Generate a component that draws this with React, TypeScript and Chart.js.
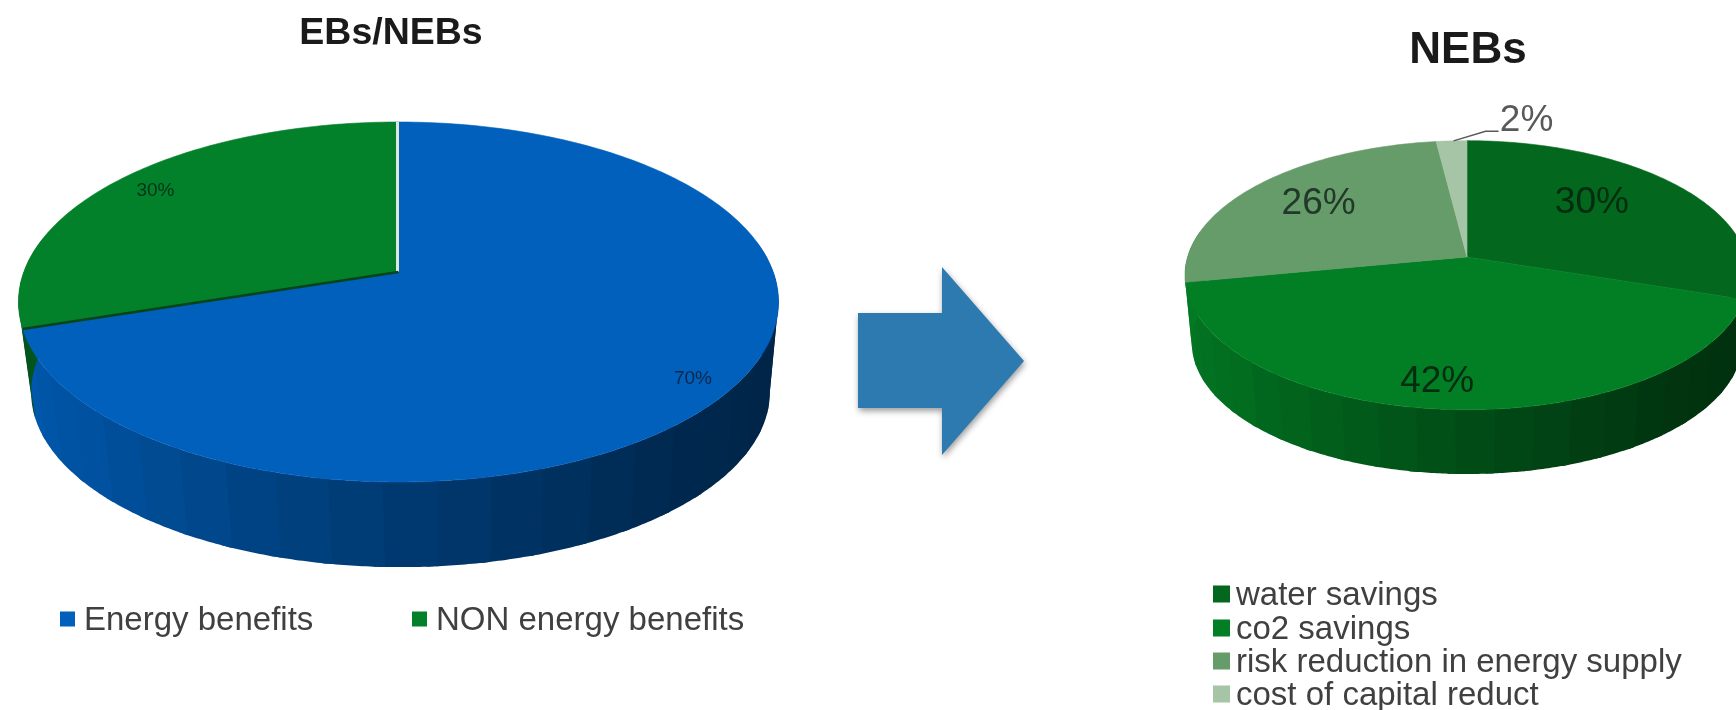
import React, { useEffect, useRef } from "react";
import { Chart, registerables } from "chart.js";

Chart.register(...registerables);

const benefitCategories = ["Energy benefits", "NON energy benefits"];
const benefitValues = [70, 30];
const benefitColors = ["#0060BC", "#03812A"];

const nebCategories = ["water savings", "co2 savings", "risk reduction in energy supply", "cost of capital reduct"];
const nebValues = [30, 42, 26, 2];
const nebColors = ["#03681E", "#027F25", "#669B6A", "#A6C4A6"];

const FONT = "'Liberation Sans', Arial, sans-serif";
const STRIP_DEG = 7;
const SHADE_STOPS = [[0, 0.98], [0.25, 0.85], [0.5, 0.6], [0.72, 0.41], [1, 0.36]];

type PieLook = {
  shiftX: number; floorShift: number;
  radiusX: number; radiusY: number; tilt: number; drop: number; floorScale: number;
  labelFont: number; labelColors: string[]; labelRadius: number[]; labelTurn: number[]; labelDrop: number;
  sideColors: string[];
  edges: { index: number; color: string; width: number; shift: number }[];
  leaderIndex: number | null;
  legendBox: number; legendX: number[]; legendY: number[]; legendTextX: number[];
};

const shadeAt = (deg: number) => {
  const t = Math.min(1, Math.max(0, (275 - deg) / 190));
  for (let i = 1; i < SHADE_STOPS.length; i++) {
    const [a, fa] = SHADE_STOPS[i - 1];
    const [b, fb] = SHADE_STOPS[i];
    if (t <= b) return fa + ((fb - fa) * (t - a)) / (b - a);
  }
  return SHADE_STOPS[SHADE_STOPS.length - 1][1];
};

const darken = (hex: string, k: number) => {
  const n = parseInt(hex.slice(1), 16);
  const c = [(n >> 16) & 255, (n >> 8) & 255, n & 255].map((v) => Math.round(v * k));
  return `rgb(${c[0]},${c[1]},${c[2]})`;
};

// Tilted disc with perspective: flat pie angles mapped onto the rim of an ellipse.
const project = (el: any, look: PieLook, deg: number, f = 1, floor = false) => {
  const a = (deg * Math.PI) / 180;
  const u = Math.sin(a) * f;
  const v = -Math.cos(a) * f;
  const w = 1 - look.tilt * v;
  const s = floor ? look.floorScale : 1;
  return {
    x: el.x + look.shiftX + (floor ? look.floorShift : 0) + (look.radiusX * u * s) / w,
    y: el.y + (floor ? look.drop : 0) + (look.radiusY * v * s) / w,
  };
};

const sliceDegrees = (el: any) => ({
  start: ((el.startAngle + Math.PI / 2) * 180) / Math.PI,
  end: ((el.endAngle + Math.PI / 2) * 180) / Math.PI,
});

const tiltedPie = (look: PieLook) => ({
  id: "tiltedPie",
  beforeDatasetsDraw(chart: any) {
    const { ctx } = chart;
    const arcs = chart.getDatasetMeta(0).data;
    const colors = chart.data.datasets[0].backgroundColor;
    ctx.save();

    // side wall, built from shaded bands between the upper and lower rims;
    // each band runs a little under the next one so no seam shows
    arcs.forEach((el: any, i: number) => {
      const { start, end } = sliceDegrees(el);
      const from = Math.max(start, 80);
      const to = Math.min(end, 280);
      let d = from;
      while (d < to) {
        const next = Math.min(to, (Math.floor(d / STRIP_DEG) + 1) * STRIP_DEG);
        const over = next + 1.5;
        ctx.beginPath();
        for (let a = d; a <= over + 1e-6; a += 0.5) {
          const p = project(el, look, a);
          a === d ? ctx.moveTo(p.x, p.y) : ctx.lineTo(p.x, p.y);
        }
        for (let a = over; a >= d - 1e-6; a -= 0.5) {
          const p = project(el, look, a, 1, true);
          ctx.lineTo(p.x, p.y);
        }
        ctx.closePath();
        ctx.fillStyle = darken(look.sideColors[i], shadeAt((d + next) / 2));
        ctx.fill();
        d = next;
      }
    });

    // top surface
    arcs.forEach((el: any, i: number) => {
      const { start, end } = sliceDegrees(el);
      ctx.beginPath();
      ctx.moveTo(el.x + look.shiftX, el.y);
      for (let a = start; a < end; a += 1) {
        const p = project(el, look, a);
        ctx.lineTo(p.x, p.y);
      }
      const last = project(el, look, end);
      ctx.lineTo(last.x, last.y);
      ctx.closePath();
      ctx.fillStyle = colors[i];
      ctx.strokeStyle = colors[i];
      ctx.lineWidth = 0.6;
      ctx.fill();
      ctx.stroke();
    });

    // thin seams left visible where slices meet
    look.edges.forEach((edge) => {
      const el = arcs[edge.index];
      const p = project(el, look, sliceDegrees(el).start);
      ctx.beginPath();
      ctx.moveTo(el.x + look.shiftX + edge.shift, el.y);
      ctx.lineTo(p.x + edge.shift, p.y);
      ctx.strokeStyle = edge.color;
      ctx.lineWidth = edge.width;
      ctx.stroke();
    });
    ctx.restore();
    return false;
  },
  afterDraw(chart: any) {
    const { ctx } = chart;
    const arcs = chart.getDatasetMeta(0).data;
    const values = chart.data.datasets[0].data;
    const colors = chart.data.datasets[0].backgroundColor;
    ctx.save();

    // percentage labels
    ctx.textAlign = "center";
    ctx.textBaseline = "middle";
    ctx.font = `${look.labelFont}px ${FONT}`;
    arcs.forEach((el: any, i: number) => {
      const { start, end } = sliceDegrees(el);
      const mid = (start + end) / 2;
      const p = project(el, look, mid + look.labelTurn[i], look.labelRadius[i]);
      ctx.fillStyle = look.labelColors[i];
      ctx.fillText(`${values[i]}%`, p.x, p.y + look.labelDrop);
      if (look.leaderIndex === i) {
        const { x, y } = project(el, look, mid);
        ctx.beginPath();
        ctx.moveTo(x + 2, y);
        ctx.lineTo(p.x - 41, p.y + 14);
        ctx.lineTo(p.x - 28, p.y + 14);
        ctx.strokeStyle = "#595959";
        ctx.lineWidth = 1.5;
        ctx.stroke();
      }
    });

    // legend
    ctx.textAlign = "left";
    ctx.font = `33px ${FONT}`;
    chart.data.labels.forEach((label: string, i: number) => {
      const size = look.legendBox;
      ctx.fillStyle = colors[i];
      ctx.fillRect(look.legendX[i], look.legendY[i] - size / 2, size, size);
      ctx.fillStyle = "#404040";
      ctx.fillText(label, look.legendTextX[i], look.legendY[i] + 2);
    });
    ctx.restore();
  },
});

function TiltedPie(props: {
  left: number; width: number; title: string; titleSize: number; titleTop: number;
  labels: string[]; values: number[]; colors: string[]; padding: any; look: PieLook;
}) {
  const ref = useRef<HTMLCanvasElement>(null);
  useEffect(() => {
    const chart = new Chart(ref.current!, {
      type: "pie",
      data: {
        labels: props.labels,
        datasets: [{ data: props.values, backgroundColor: props.colors, borderWidth: 0 }],
      },
      options: {
        responsive: false,
        animation: false,
        layout: { padding: props.padding },
        plugins: {
          legend: { display: false },
          tooltip: { enabled: false },
          title: {
            display: true,
            text: props.title,
            color: "#1a1a1a",
            font: { family: FONT, size: props.titleSize, weight: "bold" },
            padding: { top: props.titleTop, bottom: 0 },
          },
        },
      },
      plugins: [tiltedPie(props.look)],
    });
    return () => chart.destroy();
  }, []);
  return (
    <canvas
      ref={ref}
      width={props.width}
      height={710}
      style={{ position: "absolute", left: props.left, top: 0, width: props.width, height: 710 }}
    />
  );
}

const benefitLook: PieLook = {
  shiftX: 7.5, floorShift: 2,
  radiusX: 374.7, radiusY: 175, tilt: 1 / 6, drop: 91, floorScale: 0.972,
  labelFont: 19, labelColors: ["#0b2748", "#06331a"], labelRadius: [0.9, 0.87], labelTurn: [1.5, 0], labelDrop: 1,
  sideColors: ["#0060BC", "#02591D"],
  edges: [
    { index: 0, color: "#DDE8DD", width: 3, shift: -1 },
    { index: 1, color: "#06431A", width: 2.5, shift: 0 },
  ],
  leaderIndex: null,
  legendBox: 15, legendX: [60, 412], legendY: [619, 619], legendTextX: [84, 436],
};

const nebLook: PieLook = {
  shiftX: -1, floorShift: 0,
  radiusX: 279.4, radiusY: 132, tilt: 0.136, drop: 68, floorScale: 0.976,
  labelFont: 37, labelColors: ["#032c10", "#032c10", "#22392a", "#595959"],
  labelRadius: [0.66, 0.825, 0.72, 1.26], labelTurn: [-8, 3, 2.5, 15], labelDrop: 3,
  sideColors: ["#03681E", "#027F25", "#027F25", "#027F25"],
  edges: [],
  leaderIndex: 3,
  legendBox: 17, legendX: [63, 63, 63, 63], legendY: [594, 628, 661, 694], legendTextX: [86, 86, 86, 86],
};

export default function App() {
  return (
    <div style={{ position: "fixed", left: 0, top: 0, width: 1736, height: 710, overflow: "hidden", background: "#fff" }}>
      <TiltedPie
        left={0} width={782} title="EBs/NEBs" titleSize={37.5} titleTop={11}
        labels={benefitCategories} values={benefitValues} colors={benefitColors}
        padding={{ left: 0, right: 0, top: 0, bottom: 222 }} look={benefitLook}
      />
      <svg
        width={220} height={240} viewBox="0 0 220 240"
        style={{ position: "absolute", left: 840, top: 240, filter: "drop-shadow(1px 3px 3px rgba(0,0,0,0.4))" }}
      >
        <polygon points="18,73 102,73 102,27 184,121 102,215 102,168 18,168" fill="#2C7AB0" />
      </svg>
      <TiltedPie
        left={1150} width={636} title="NEBs" titleSize={44} titleTop={24}
        labels={nebCategories} values={nebValues} colors={nebColors}
        padding={{ left: 0, right: 0, top: 0, bottom: 273 }} look={nebLook}
      />
    </div>
  );
}
